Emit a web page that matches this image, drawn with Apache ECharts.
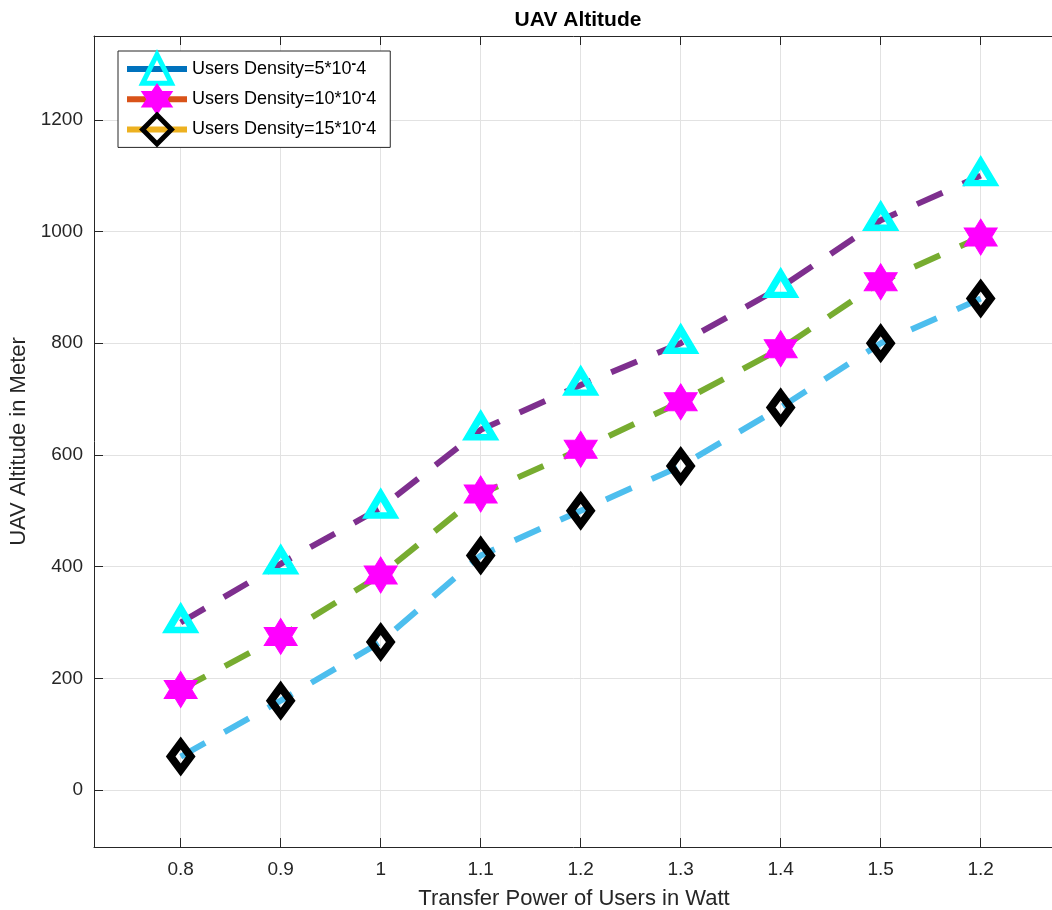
<!DOCTYPE html>
<html>
<head>
<meta charset="utf-8">
<script src="https://cdn.jsdelivr.net/npm/echarts@6/dist/echarts.min.js"></script>
<style>html,body{margin:0;padding:0;background:#fff;}#c{width:1052px;height:910px;}</style>
</head>
<body>
<div id="c"></div>
<script>
const xLabels = ['0.8', '0.9', '1', '1.1', '1.2', '1.3', '1.4', '1.5', '1.2'];
const yTicks = [0, 200, 400, 600, 800, 1000, 1200];
const seriesNames = ['Users Density=5*10^-4', 'Users Density=10*10^-4', 'Users Density=15*10^-4'];
const density5 = [300, 405, 505, 645, 725, 800, 900, 1020, 1100];
const density10 = [180, 275, 385, 530, 610, 695, 790, 910, 990];
const density15 = [60, 160, 265, 420, 500, 580, 685, 800, 880];

const FONT = 'Liberation Sans, Arial, Helvetica, sans-serif';
const AX = '#262626';
const xIdx = xLabels.map((_, i) => i);
const pairs = arr => arr.map((v, i) => [i, v]);
const STAR = 'path://M50 0 L64.43 25 L93.3 25 L78.87 50 L93.3 75 L64.43 75 L50 100 L35.57 75 L6.7 75 L21.13 50 L6.7 25 L35.57 25 Z';

const chart = echarts.init(document.getElementById('c'), null, {renderer: 'canvas'});

function dashed(name, arr, color) {
  return {
    name: name, type: 'line', data: pairs(arr), symbol: 'none', silent: true, z: 2,
    lineStyle: {color: color, width: 6, type: [28, 22], cap: 'butt'}
  };
}
function markers(name, arr, symbol, size, fill, border, bw, offset) {
  return {
    name: name, type: 'line', data: pairs(arr), symbol: symbol, symbolSize: size,
    symbolOffset: offset || [0, 0], showSymbol: true, showAllSymbol: true, z: 5,
    lineStyle: {opacity: 0, width: 0},
    itemStyle: {color: fill, borderColor: border, borderWidth: bw, borderJoin: 'miter', borderMiterLimit: 10, opacity: 1}
  };
}

const option = {
  animation: false,
  backgroundColor: '#fff',
  title: {
    text: 'UAV Altitude', left: 573, top: 5, textAlign: 'center',
    textStyle: {fontFamily: FONT, fontSize: 21, fontWeight: 'bold', color: '#000'}
  },
  grid: {left: 94, top: 36, width: 960, height: 811, containLabel: false, outerBoundsMode: 'none'},
  legend: {
    orient: 'vertical', left: 118, top: 51,
    backgroundColor: '#fff', borderColor: AX, borderWidth: 1,
    padding: [1, 14, 1, 6], itemWidth: 60, itemHeight: 36, itemGap: -2,
    textStyle: {fontFamily: FONT, fontSize: 18, color: '#000',
      rich: {sup: {fontFamily: FONT, fontSize: 14, fontWeight: 'bold', color: '#000', verticalAlign: 'top', padding: [0, 0, 10, 0]}}},
    formatter: n => n.replace('^-', '{sup|-}'),
    data: [
      {name: seriesNames[0], lineStyle: {color: '#0072BD', width: 6, opacity: 1}, itemStyle: {borderWidth: 5}},
      {name: seriesNames[1], lineStyle: {color: '#D95319', width: 6, opacity: 1}},
      {name: seriesNames[2], lineStyle: {color: '#EDB120', width: 6, opacity: 1}, itemStyle: {borderWidth: 5}}
    ]
  },
  xAxis: [{
    type: 'value', min: -0.867, max: 8.733, position: 'bottom',
    name: 'Transfer Power of Users in Watt', nameLocation: 'middle', nameGap: 41,
    nameTextStyle: {fontFamily: FONT, fontSize: 22, color: AX},
    axisLine: {show: true, onZero: false, lineStyle: {color: AX, width: 1}},
    axisTick: {show: true, inside: true, length: 9, customValues: xIdx, lineStyle: {color: AX}},
    axisLabel: {show: true, customValues: xIdx, margin: 13, formatter: v => xLabels[Math.round(v)],
      fontFamily: FONT, fontSize: 19, color: AX},
    splitLine: {show: true, lineStyle: {color: '#e2e2e2', width: 1}}
  }, {
    type: 'value', min: -0.867, max: 8.733, position: 'top',
    axisLine: {show: true, onZero: false, lineStyle: {color: AX, width: 1}},
    axisTick: {show: true, inside: true, length: 9, customValues: xIdx, lineStyle: {color: AX}},
    axisLabel: {show: false}, splitLine: {show: false}
  }],
  yAxis: {
    type: 'value', min: -102, max: 1350,
    name: 'UAV Altitude in Meter', nameLocation: 'middle', nameGap: 62,
    nameTextStyle: {fontFamily: FONT, fontSize: 22, color: AX},
    axisLine: {show: true, onZero: false, lineStyle: {color: AX, width: 1}},
    axisTick: {show: true, inside: true, length: 9, customValues: yTicks, lineStyle: {color: AX}},
    axisLabel: {show: true, customValues: yTicks, margin: 11, formatter: v => String(v),
      fontFamily: FONT, fontSize: 19, color: AX},
    splitLine: {show: true, lineStyle: {color: '#e2e2e2', width: 1}}
  },
  series: [
    dashed('d5', density5, '#7E2F8E'),
    dashed('d10', density10, '#77AC30'),
    dashed('d15', density15, '#4DBEEE'),
    markers(seriesNames[0], density5, 'triangle', [25, 21], 'rgba(0,0,0,0)', '#00FFFF', 7, [0, -3]),
    markers(seriesNames[1], density10, STAR, [33, 36], '#FF00FF', '#FF00FF', 1),
    markers(seriesNames[2], density15, 'diamond', [20, 27], 'rgba(0,0,0,0)', '#000000', 8)
  ]
};
chart.setOption(option);
</script>
</body>
</html>
